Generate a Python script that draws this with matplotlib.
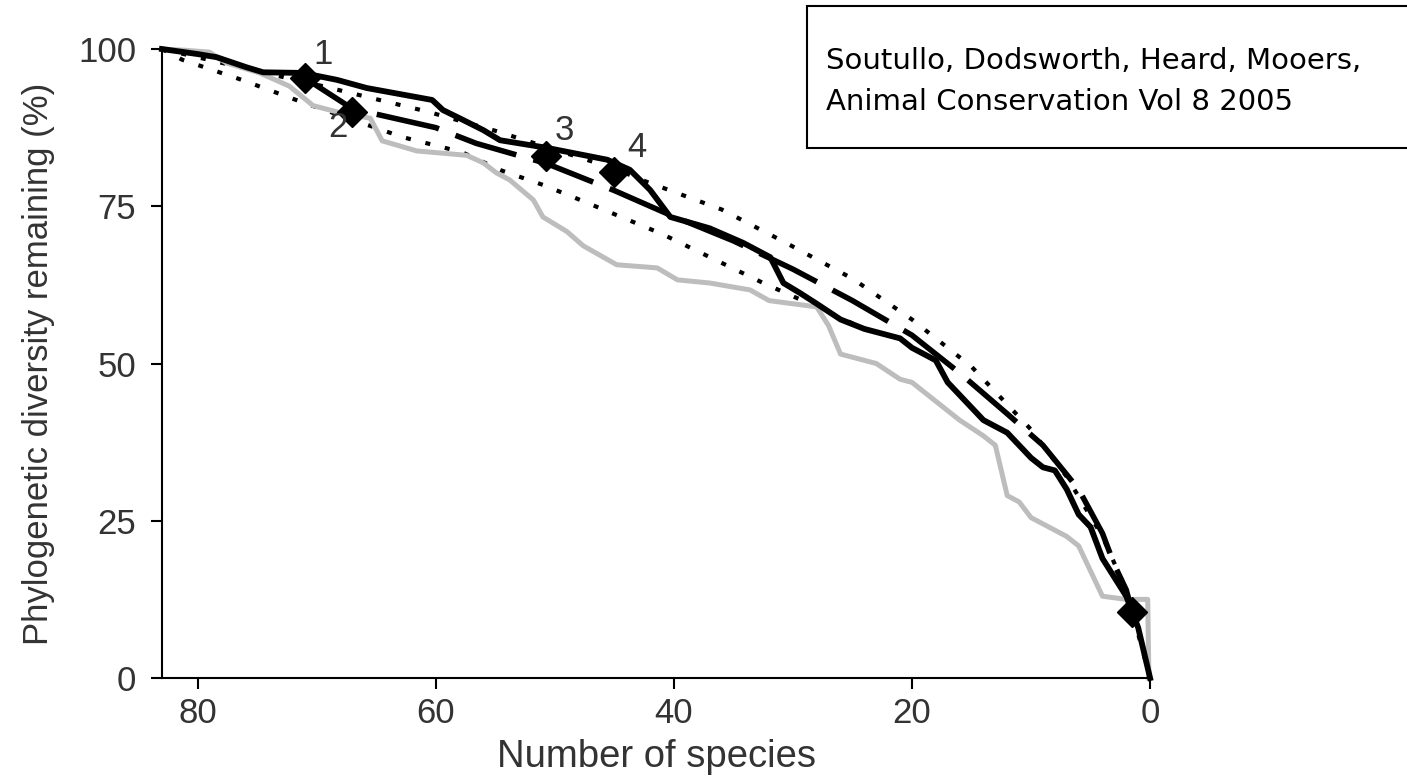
import matplotlib
matplotlib.use('Agg')
import matplotlib.pyplot as plt
from matplotlib.patches import Rectangle

# Phylogenetic diversity remaining vs number of species left
gray_x = [83, 81, 79, 77.6, 74.8, 72.3, 70.3, 68.3, 65.5, 64.5, 61.6, 57.4, 56, 54.9, 53.8,
          51.8, 51, 49, 47.6, 44.8, 41.4, 39.7, 37, 33.6, 32, 30, 28, 27, 26, 25, 23, 21, 20,
          18, 16, 14, 13, 12, 11, 10, 8, 7, 6, 5, 4, 2, 1, 0.2, 0.1]
gray_y = [100, 99.8, 99.5, 97.8, 96.2, 94.1, 91, 90, 89, 85.4, 83.8, 83.1, 81.9, 80.3, 79.2,
          76, 73.3, 71, 68.7, 65.7, 65.2, 63.3, 62.8, 61.7, 60, 59.5, 59, 56, 51.5, 51, 50, 47.5, 47,
          44, 41, 38.5, 37, 29, 28, 25.5, 23.5, 22.5, 21, 17, 13, 12.5, 12.5, 12.5, 0]

black_x = [83, 80, 78.4, 75.9, 74.5, 71.2, 68.3, 65.8, 60.3, 59.4, 58, 56, 54.6, 50.7, 45.6,
           43.7, 42, 40.3, 37, 34.2, 31.9, 30.8, 29.4, 28, 26, 24, 22, 21, 20, 18, 17, 16, 15,
           14, 12, 11, 10, 9, 8, 7, 6, 5, 4, 3, 2, 1, 0]
black_y = [100, 99.2, 98.7, 97.1, 96.3, 96.2, 95.1, 93.8, 91.9, 90.3, 89, 87.1, 85.5, 84.3, 82.4,
           80.8, 77.6, 73.3, 71.5, 69.2, 66.9, 62.8, 61.2, 59.5, 57, 55.5, 54.5, 54, 52.5, 50.5, 47,
           45, 43, 41, 39, 37, 35, 33.5, 33, 30, 26, 24, 19, 16, 13, 8, 0]

dash_x = [71, 67, 60, 56.6, 50.7, 45, 40.3, 35, 30, 25, 20, 16, 12, 9, 6, 4, 3, 2, 1.5]
dash_y = [95.4, 90.5, 87.5, 85, 81.8, 77.5, 73.6, 69.5, 65, 60, 54.5, 48.5, 42, 37, 30, 23, 18, 14, 10.5]

dot_hi_x = [83, 75, 69.5, 64.3, 60.8, 55, 50, 45, 42.3, 36, 30.7, 25, 20, 15, 10, 7, 4, 2, 0]
dot_hi_y = [100, 96.5, 94.1, 91.7, 90.1, 87, 84, 81, 78.9, 74.5, 69.3, 63.5, 57, 49.5, 39.5, 32, 22.5, 14, 0]

dot_lo_x = [83, 81.3, 76.3, 71.3, 62.8, 57.8, 54.5, 51, 47.6, 41, 32.5, 28, 24]
dot_lo_y = [100, 98.3, 95.1, 91.6, 86, 83.6, 80.7, 78.4, 75.8, 70.6, 62.8, 59, 55.5]

marker_x = [71, 67, 50.7, 45, 1.5]
marker_y = [95.4, 90, 83, 80.5, 10.5]
label_text = ['1', '2', '3', '4']
label_x = [69.5, 68.2, 49.2, 43.1]
label_y = [99.2, 87.6, 87.1, 84.3]

plt.rcParams['font.family'] = ['Liberation Sans', 'DejaVu Sans']
txt_color = '#333333'

fig = plt.figure(figsize=(14.07, 7.82), dpi=100)
ax = fig.add_axes([0.1151, 0.133, 0.7023, 0.8043])

ax.plot(dot_hi_x, dot_hi_y, color='black', lw=3, dashes=(1.2, 3.6), dash_capstyle='butt', clip_on=False)
ax.plot(dot_lo_x, dot_lo_y, color='black', lw=3, dashes=(1.2, 3.6), dash_capstyle='butt', clip_on=False)
ax.plot(gray_x, gray_y, color='#bdbdbd', lw=3.6, clip_on=False)
ax.plot(black_x, black_y, color='black', lw=4.2, clip_on=False)
ax.plot(dash_x, dash_y, color='black', lw=4, dashes=(11.5, 3.2), dash_capstyle='butt', clip_on=False)
ax.plot(marker_x, marker_y, ls='none', marker='D', ms=15, color='black', clip_on=False)

for t, x, y in zip(label_text, label_x, label_y):
    ax.text(x, y, t, fontsize=25, color=txt_color, ha='center', va='center')

ax.set_xlim(83, 0)
ax.set_ylim(0, 100)
ax.set_xticks([80, 60, 40, 20, 0])
ax.set_yticks([0, 25, 50, 75, 100])
ax.spines['top'].set_visible(False)
ax.spines['right'].set_visible(False)
for s in ['left', 'bottom']:
    ax.spines[s].set_linewidth(1.5)
ax.tick_params(direction='out', length=8, width=1.5, labelsize=25, labelcolor=txt_color)
ax.tick_params(axis='x', pad=6)
ax.tick_params(axis='y', pad=10.5)

ax.set_xlabel('Number of species', fontsize=27.5, color=txt_color, labelpad=6)
ax.set_ylabel('Phylogenetic diversity remaining (%)', fontsize=25, color=txt_color, labelpad=17)

# citation box in the top right corner
fig.patches.append(Rectangle((807 / 1407, 1 - 148 / 782), 0.5, 142 / 782, transform=fig.transFigure,
                             fill=True, facecolor='white', edgecolor='black', lw=1.5, zorder=5))
fig.text(826 / 1407, 1 - 61 / 782, 'Soutullo, Dodsworth, Heard, Mooers,', fontsize=21,
         family='DejaVu Sans', va='center', zorder=6)
fig.text(826 / 1407, 1 - 102 / 782, 'Animal Conservation Vol 8 2005', fontsize=21,
         family='DejaVu Sans', va='center', zorder=6)

fig.savefig('out.png', dpi=100)
